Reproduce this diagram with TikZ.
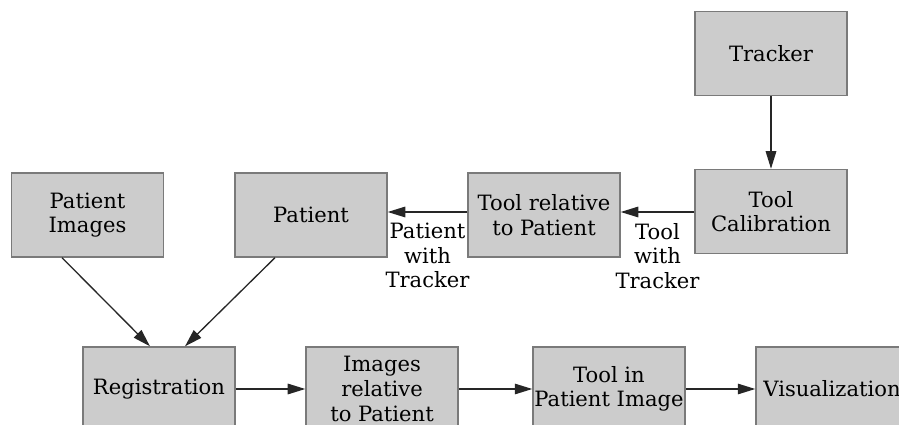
\documentclass[tikz,border=0pt]{standalone}
\usepackage{fontspec}
\setmainfont{DejaVu Serif}
\usepackage{tikz}
\usetikzlibrary{arrows.meta}

\definecolor{boxgray}{HTML}{CCCCCC}
\definecolor{rimgray}{HTML}{7A7A7A}

\tikzset{
  block/.style={draw=rimgray, fill=boxgray, line width=0.8pt,
    minimum width=3.04cm, minimum height=1.68cm, inner xsep=0.5pt, inner ysep=2pt,
    align=center, font=\fontsize{12}{14}\selectfont},
  flow/.style={-{Triangle[length=10pt,width=6pt]}, line width=0.75pt, draw=black!85},
  tag/.style={align=center, inner sep=6pt, font=\fontsize{12}{14}\selectfont}
}

\begin{document}
\begin{tikzpicture}[x=0.02cm, y=-0.02cm]
		\useasboundingbox (0,0) rectangle (899,425);
		\clip (0,0) rectangle (899,425);
		% tracking chain
		\node[block] (tracker) at (771,53.5) {Tracker};
		\node[block] (calib) at (771,211.5) {Tool\\Calibration};
		\node[block] (toolrel) at (544,215) {Tool relative\\to Patient};
		% patient side
		\node[block] (patient) at (311,215) {Patient};
		\node[block] (pimages) at (87.5,215) {Patient\\Images};
		% bottom row
		\node[block] (regist) at (159,389) {Registration};
		\node[block] (imgrel) at (382,389) {Images\\relative\\to Patient};
		\node[block] (toolimg) at (609,389) {Tool in\\Patient Image};
		\node[block] (visual) at (832,389) {Visualization};
		% connectors
		\draw[flow] (tracker) -- (calib);
		\draw[flow] (calib.west |- 0,212) -- node[tag, below] {Tool\\with\\Tracker} (toolrel.east |- 0,212);
		\draw[flow] (toolrel.west |- 0,212) -- node[tag, below] {Patient\\with\\Tracker} (patient.east |- 0,212);
		\draw[flow] (pimages.south -| 62,0) -- (regist.north -| 150,0);
		\draw[flow] (patient.south -| 275,0) -- (regist.north -| 185,0);
		\draw[flow] (regist) -- (imgrel);
		\draw[flow] (imgrel) -- (toolimg);
		\draw[flow] (toolimg) -- (visual);
	\end{tikzpicture}
\end{document}
